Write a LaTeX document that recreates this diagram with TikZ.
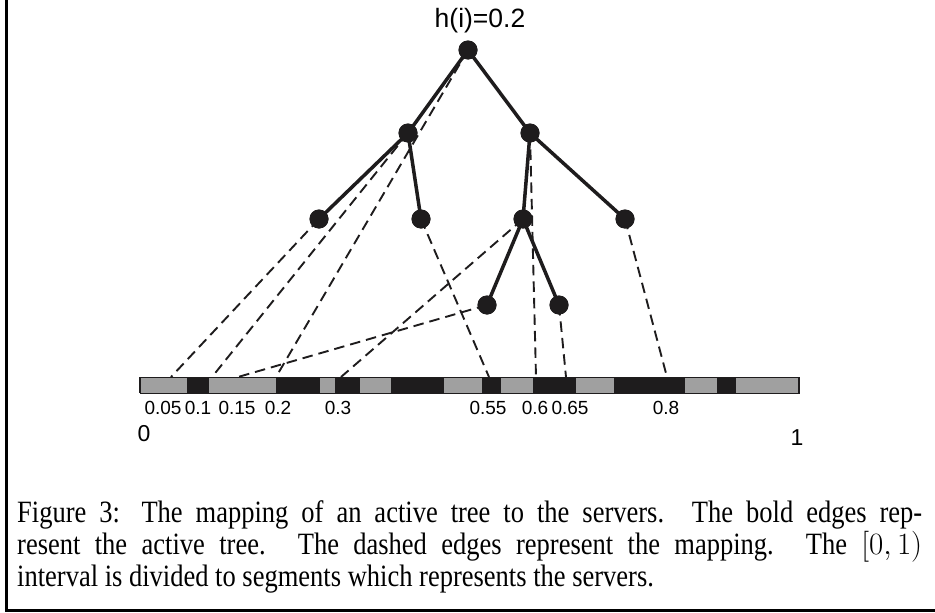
\RequirePackage{fix-cm}
\documentclass[tikz,border=0pt]{standalone}
\usepackage{fontspec}
\setmainfont{Liberation Serif}
\newfontfamily\capfont[FakeStretch=0.855]{Liberation Serif}
\newfontfamily\sansfig{Liberation Sans}
\definecolor{ink}{RGB}{30,28,29}
\definecolor{servgrey}{RGB}{160,160,160}
\begin{document}
\begin{tikzpicture}[x=1pt,y=-1pt,
  vert/.style={circle, fill=ink, inner sep=0pt, minimum size=19pt},
  treeedge/.style={draw=ink, line width=3.5pt},
  mapedge/.style={draw=ink, line width=1.9pt, dash pattern=on 10.5pt off 6pt},
  ticklabel/.style={font=\sansfig\fontsize{19}{21}\selectfont, inner sep=0pt, anchor=base},
  endlabel/.style={font=\sansfig\fontsize{23}{25}\selectfont, inner sep=0pt, anchor=base},
  capline/.style={font=\capfont\fontsize{31}{32}\selectfont, inner sep=0pt, anchor=base west}]
\useasboundingbox (0,0) rectangle (935,613);

% frame (left and bottom sides)
\draw[line width=3pt] (6.5,0) -- (6.5,610.5) -- (935,610.5);

% tree vertices
\node[vert] (r)  at (468,50) {};
\node[vert] (a)  at (408,133) {};
\node[vert] (b)  at (530,133) {};
\node[vert] (aa) at (319,219) {};
\node[vert] (ab) at (421,219) {};
\node[vert] (ba) at (523,219) {};
\node[vert] (bb) at (625,219) {};
\node[vert] (baa) at (487,305) {};
\node[vert] (bab) at (559,305) {};
\node[font=\sansfig\fontsize{26.5}{28}\selectfont, inner sep=0pt] (hlabel) at (480,21) {h(i)=0.2};

% points on the interval that the vertices are mapped to
\coordinate (p005) at (171,377);
\coordinate (p01)  at (212,377);
\coordinate (p015) at (238,377);
\coordinate (p02)  at (276,377);
\coordinate (p03)  at (341,377);
\coordinate (p055) at (489,377);
\coordinate (p06)  at (536,377);
\coordinate (p065) at (566,377);
\coordinate (p08)  at (667,377);

% mapping (dashed)
\draw[mapedge] (r.center) -- (p02);
\draw[mapedge] (a.center) -- (p01);
\draw[mapedge] (b.center) -- (p06);
\draw[mapedge] (aa.center) -- (p005);
\draw[mapedge] (ab.center) -- (p055);
\draw[mapedge] (ba.center) -- (p03);
\draw[mapedge] (bb.center) -- (p08);
\draw[mapedge] (baa.center) -- (p015);
\draw[mapedge] (bab.center) -- (p065);

% active tree (bold)
\draw[treeedge] (r.center) -- (a.center);
\draw[treeedge] (r.center) -- (b.center);
\draw[treeedge] (a.center) -- (aa.center);
\draw[treeedge] (a.center) -- (ab.center);
\draw[treeedge] (b.center) -- (ba.center);
\draw[treeedge] (b.center) -- (bb.center);
\draw[treeedge] (ba.center) -- (baa.center);
\draw[treeedge] (ba.center) -- (bab.center);
\foreach \v in {r,a,b,aa,ab,ba,bb,baa,bab} \fill[ink] (\v) circle (9.5pt);

% the [0,1) interval split into server segments
\foreach \x/\y/\c in {140/187/servgrey,187/209/ink,209/276/servgrey,276/320/ink,
  320/335/servgrey,335/360/ink,360/391/servgrey,391/444/ink,444/482/servgrey,
  482/501/ink,501/533/servgrey,533/576/ink,576/614/servgrey,614/685/ink,
  685/717/servgrey,717/736/ink,736/799/servgrey}
  \fill[\c] (\x,377) rectangle (\y,393);
\draw[ink, line width=0.8pt] (140,377) rectangle (799,393);
\draw[ink, line width=2pt] (140,377) -- (140,393) (799,377) -- (799,393);

% segment labels
\foreach \x/\t in {163/0.05,198/0.1,237/0.15,278/0.2,338/0.3,488/0.55,535/0.6,570/0.65,666/0.8}
  \node[ticklabel] at (\x,414) {\t};
\node[endlabel] (zero) at (144,441) {0};
\node[endlabel] (one)  at (797,445) {1};

% caption
\node[capline] (cap1) at (17,522) {\makebox[905pt][s]{Figure 3: The mapping of an active tree to the servers. The bold edges rep-}};
\node[capline] (cap2) at (17,554) {\makebox[905pt][s]{resent the active tree. The dashed edges represent the mapping. The $[0,1)$}};
\node[capline] (cap3) at (17,586) {interval is divided to segments which represents the servers.};
\end{tikzpicture}
\end{document}
